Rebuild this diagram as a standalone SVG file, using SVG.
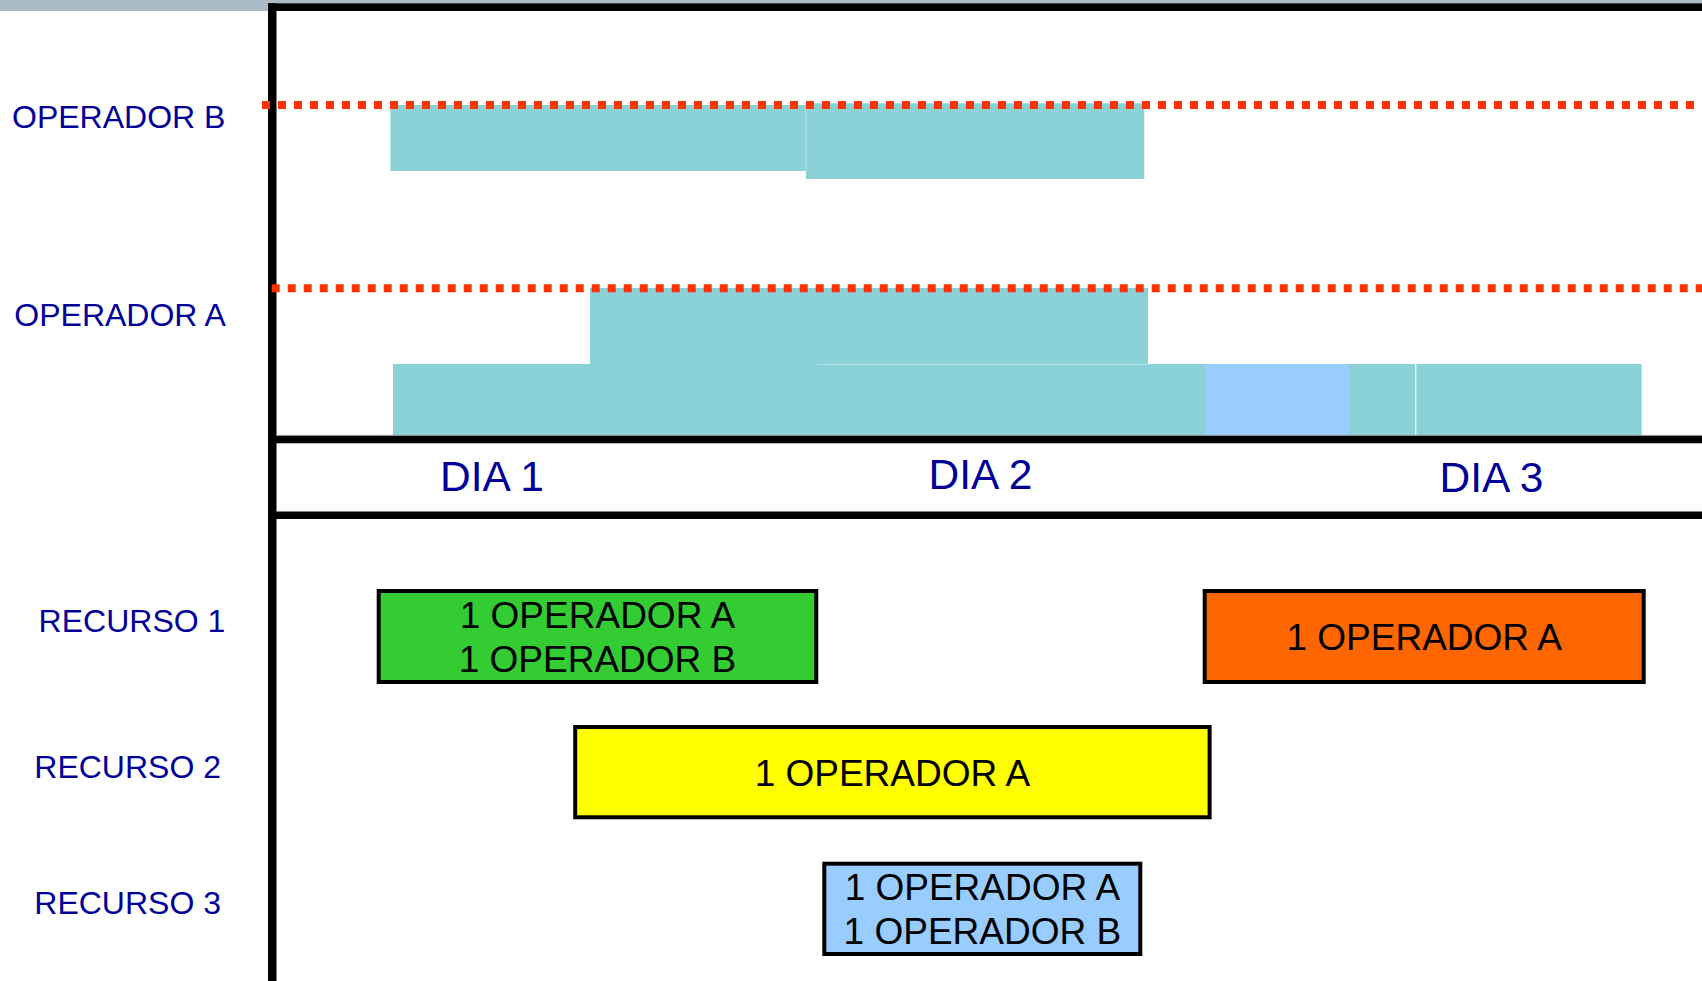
<svg xmlns="http://www.w3.org/2000/svg" width="1702" height="981" viewBox="0 0 1702 981">
  <style>
    .lbl { font-family: "Liberation Sans", Arial, sans-serif; font-size: 32px; fill: #000099; }
    .day { font-family: "Liberation Sans", Arial, sans-serif; font-size: 42.5px; fill: #000099; }
    .box-txt { font-family: "Liberation Sans", Arial, sans-serif; font-size: 37px; fill: #000000; text-anchor: middle; }
    .load { fill: #8bd2d8; }
    .load-alt { fill: #99ccff; }
    .rule { fill: #000000; }
    .limit { stroke: #ff3300; stroke-width: 8; stroke-dasharray: 8 8; fill: none; }
    .box { stroke: #000000; stroke-width: 4; }
  </style>

  <rect x="0" y="0" width="1702" height="981" fill="#ffffff"/>

  <!-- header band -->
  <rect x="0" y="0" width="1702" height="3.5" fill="#a9bcc8"/>
  <rect x="0" y="0" width="270" height="11" fill="#a9bcc8"/>

  <!-- operator load bars -->
  <g id="load-operador-b">
    <rect class="load" x="390.4" y="105" width="415.6" height="66"/>
    <rect class="load" x="806" y="103.3" width="338.3" height="75.7"/>
    <line x1="806" y1="104" x2="806" y2="171" stroke="#b3e1e5" stroke-width="1"/>
  </g>
  <g id="load-operador-a">
    <rect class="load" x="590" y="288" width="558" height="76.5"/>
    <rect class="load" x="393" y="364" width="424" height="71.5"/>
    <rect class="load" x="817" y="364" width="388" height="71.5"/>
    <rect class="load-alt" x="1205" y="364" width="144" height="71.5"/>
    <rect class="load" x="1349" y="364" width="67.2" height="71.5"/>
    <rect class="load" x="1416.2" y="364" width="225.5" height="71.5"/>
    <line x1="817" y1="364.5" x2="1148" y2="364.5" stroke="#b3e1e5" stroke-width="1"/>
    <line x1="1415.7" y1="364" x2="1415.7" y2="435.5" stroke="#ffffff" stroke-width="1"/>
  </g>

  <!-- chart frame -->
  <g id="frame">
    <rect class="rule" x="268" y="3.3" width="1434" height="7.7"/>
    <rect class="rule" x="268" y="3.3" width="8.5" height="977.7"/>
    <line x1="276" y1="435.3" x2="1702" y2="435.3" stroke="#b8b8b8" stroke-width="0.8"/>
    <rect class="rule" x="268" y="435.7" width="1434" height="7.6"/>
    <rect class="rule" x="268" y="511.5" width="1434" height="7.5"/>
  </g>

  <!-- operator capacity limits -->
  <g id="limits">
    <line class="limit" x1="262" y1="105" x2="1702" y2="105"/>
    <line class="limit" x1="271.7" y1="288.3" x2="1702" y2="288.3"/>
  </g>

  <!-- row labels -->
  <g id="row-labels">
    <text class="lbl" x="12" y="128.3">OPERADOR B</text>
    <text class="lbl" x="14.3" y="326">OPERADOR A</text>
    <text class="lbl" x="38.6" y="631.7">RECURSO 1</text>
    <text class="lbl" x="34.3" y="778.3">RECURSO 2</text>
    <text class="lbl" x="34.3" y="914">RECURSO 3</text>
  </g>

  <!-- day axis -->
  <g id="day-labels">
    <text class="day" x="440" y="490.7">DIA 1</text>
    <text class="day" x="928.5" y="489">DIA 2</text>
    <text class="day" x="1439.5" y="492.3">DIA 3</text>
  </g>

  <!-- resource allocations -->
  <g id="recurso-1-a">
    <rect class="box" x="378.7" y="591" width="437.6" height="91" fill="#33cc33"/>
    <text class="box-txt" x="597.5" y="628.3">1 OPERADOR A</text>
    <text class="box-txt" x="597.5" y="671.7">1 OPERADOR B</text>
  </g>
  <g id="recurso-1-b">
    <rect class="box" x="1204.7" y="591" width="439" height="91" fill="#ff6600"/>
    <text class="box-txt" x="1424.2" y="650">1 OPERADOR A</text>
  </g>
  <g id="recurso-2">
    <rect class="box" x="575.2" y="727" width="634.4" height="90.3" fill="#ffff00"/>
    <text class="box-txt" x="892.4" y="786">1 OPERADOR A</text>
  </g>
  <g id="recurso-3">
    <rect class="box" x="824.3" y="863.7" width="316" height="90.3" fill="#99ccff"/>
    <text class="box-txt" x="982.4" y="900">1 OPERADOR A</text>
    <text class="box-txt" x="982.4" y="944.3">1 OPERADOR B</text>
  </g>
</svg>
